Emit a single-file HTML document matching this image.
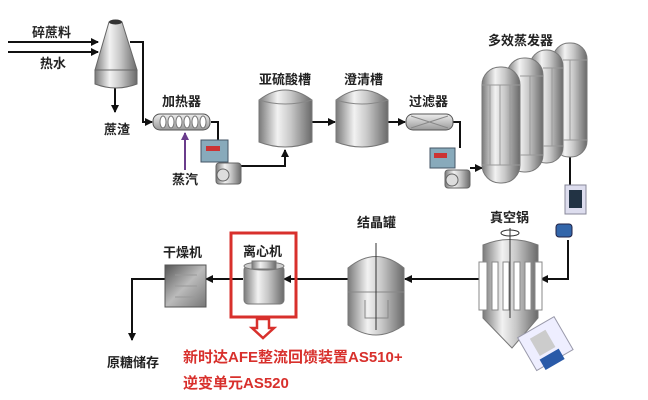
<!DOCTYPE html>
<html><head><meta charset="utf-8"><style>
html,body{margin:0;padding:0;background:#fff;}
svg{display:block;}
text{font-family:"Liberation Sans","Noto Sans CJK SC",sans-serif;fill:#222;font-size:13px;font-weight:bold;}
.r{fill:#d8302c;font-weight:bold;font-size:15px;}
</style></head><body>
<svg width="648" height="400" viewBox="0 0 648 400" xmlns="http://www.w3.org/2000/svg">
<defs>
<linearGradient id="m" x1="0" x2="1" y1="0" y2="0">
<stop offset="0" stop-color="#7a7a7a"/><stop offset="0.35" stop-color="#f2f2f2"/><stop offset="0.6" stop-color="#c8c8c8"/><stop offset="1" stop-color="#6a6a6a"/></linearGradient>
<linearGradient id="mv" x1="0" x2="0" y1="0" y2="1">
<stop offset="0" stop-color="#eee"/><stop offset="1" stop-color="#999"/></linearGradient>
<linearGradient id="bx" x1="0" x2="1" y1="0" y2="1">
<stop offset="0" stop-color="#555"/><stop offset="0.5" stop-color="#bbb"/><stop offset="1" stop-color="#777"/></linearGradient>
<marker id="a" markerWidth="8" markerHeight="8" refX="7" refY="4" orient="auto" markerUnits="userSpaceOnUse"><path d="M0,0 L8,4 L0,8 z" fill="#111"/></marker>
<marker id="p" markerWidth="8" markerHeight="8" refX="7" refY="4" orient="auto" markerUnits="userSpaceOnUse"><path d="M0,0 L8,4 L0,8 z" fill="#6a3c8c"/></marker>
</defs>
<g stroke="#111" stroke-width="2" fill="none">
<path d="M8 42 H98" marker-end="url(#a)"/>
<path d="M8 52 H98" marker-end="url(#a)"/>
<path d="M130 42 H143 V122 H152" marker-end="url(#a)"/>
<path d="M115 88 V112" marker-end="url(#a)"/>
<path d="M211 122 H218 V140"/>
<path d="M240 166 H285 V150" marker-end="url(#a)"/>
<path d="M312 122 H335" marker-end="url(#a)"/>
<path d="M388 122 H405" marker-end="url(#a)"/>
<path d="M453 122 H460 V148"/>
<path d="M470 168 H482" marker-end="url(#a)"/>
<path d="M570 155 V185"/>
<path d="M568 240 V279 H541" marker-end="url(#a)"/>
<path d="M483 279 H405" marker-end="url(#a)"/>
<path d="M348 279 H284" marker-end="url(#a)"/>
<path d="M243 279 H206" marker-end="url(#a)"/>
<path d="M165 279 H132 V340" marker-end="url(#a)"/>
</g>
<path d="M185 170 V133" stroke="#6a3c8c" stroke-width="2" marker-end="url(#p)"/>
<path d="M109 22 L122 22 L137 70 L95 70 Z" fill="url(#m)" stroke="#666"/>
<ellipse cx="115.5" cy="22" rx="6.5" ry="2.5" fill="#333"/>
<path d="M95 70 H137 V84 Q116 92 95 84 Z" fill="url(#m)" stroke="#666"/>
<rect x="153" y="114" width="57" height="16" rx="7" fill="url(#mv)" stroke="#555"/>
<g fill="#fff" stroke="#777"><ellipse cx="163" cy="122" rx="3" ry="6"/><ellipse cx="171" cy="122" rx="3" ry="6"/><ellipse cx="179" cy="122" rx="3" ry="6"/><ellipse cx="187" cy="122" rx="3" ry="6"/><ellipse cx="195" cy="122" rx="3" ry="6"/><ellipse cx="203" cy="122" rx="3" ry="6"/></g>
<rect x="201" y="140" width="27" height="22" fill="#8ab" stroke="#456"/><rect x="206" y="146" width="14" height="5" fill="#c33"/>
<rect x="216" y="163" width="25" height="21" rx="3" fill="url(#m)" stroke="#666"/><circle cx="223" cy="175" r="6" fill="#ddd" stroke="#666"/>
<path d="M259 100 Q285 80 312 100 V142 Q285 152 259 142 Z" fill="url(#m)" stroke="#777"/>
<path d="M259 100 Q285 108 312 100" fill="none" stroke="#888"/>
<path d="M336 100 Q362 80 388 100 V142 Q362 152 336 142 Z" fill="url(#m)" stroke="#777"/>
<path d="M336 100 Q362 108 388 100" fill="none" stroke="#888"/>
<rect x="406" y="114" width="47" height="16" rx="7" fill="url(#mv)" stroke="#555"/>
<path d="M411 116 L448 128 M411 128 L448 116" stroke="#888" fill="none"/>
<rect x="430" y="148" width="25" height="20" fill="#8ab" stroke="#456"/><rect x="434" y="153" width="13" height="5" fill="#c33"/>
<rect x="445" y="170" width="25" height="18" rx="3" fill="url(#m)" stroke="#666"/><circle cx="452" cy="180" r="6" fill="#ddd" stroke="#666"/>
<g stroke="#777">
<rect x="553" y="43" width="34" height="114" rx="16" fill="url(#m)"/>
<rect x="530" y="50" width="33" height="113" rx="16" fill="url(#m)"/>
<rect x="507" y="58" width="36" height="114" rx="17" fill="url(#m)"/>
<rect x="482" y="67" width="38" height="116" rx="18" fill="url(#m)"/>
</g>
<g stroke="#999" fill="none">
<path d="M482 85 H520 M482 165 H520 M490 85 V165 M500 85 V165 M510 85 V165"/>
<path d="M520 76 H543 M520 155 H543 M530 76 V155"/>
<path d="M543 68 H563 M543 146 H563 M552 68 V146"/>
<path d="M563 60 H587 M563 140 H587 M570 60 V140 M580 60 V140"/>
</g>
<rect x="565" y="185" width="21" height="29" fill="#dde" stroke="#889"/><rect x="569" y="190" width="13" height="18" fill="#234"/>
<rect x="556" y="224" width="16" height="13" rx="3" fill="#36a" stroke="#224"/>
<path d="M483 245 Q510 234 538 245 V318 L512 348 L483 318 Z" fill="url(#m)" stroke="#777"/>
<g fill="#fff" stroke="#888"><rect x="479" y="262" width="8" height="48"/><rect x="492" y="262" width="6" height="48"/><rect x="503" y="262" width="6" height="48"/><rect x="514" y="262" width="6" height="48"/><rect x="525" y="262" width="6" height="48"/><rect x="535" y="262" width="7" height="48"/></g>
<path d="M510 228 V318" stroke="#333"/>
<ellipse cx="510" cy="233" rx="9" ry="3" fill="none" stroke="#333"/>
<g transform="rotate(-30 545 345)"><rect x="525" y="325" width="42" height="38" fill="#eef" stroke="#99a"/><rect x="535" y="332" width="18" height="20" fill="#ccc"/><rect x="533" y="355" width="22" height="12" fill="#2a5aa8"/></g>
<path d="M348 268 Q376 245 404 268 V325 Q376 345 348 325 Z" fill="url(#m)" stroke="#777"/>
<path d="M348 292 H404" stroke="#888"/>
<path d="M365 300 V318 H388 V300" fill="none" stroke="#888"/>
<path d="M376 243 V330" stroke="#333"/>
<rect x="231" y="233" width="65" height="84" fill="none" stroke="#d8302c" stroke-width="3"/>
<rect x="244" y="266" width="40" height="38" rx="4" fill="url(#m)" stroke="#777"/>
<ellipse cx="264" cy="266" rx="20" ry="4" fill="#ccc" stroke="#777"/>
<rect x="252" y="261" width="24" height="8" fill="url(#m)" stroke="#777"/>
<rect x="165" y="265" width="41" height="42" fill="url(#bx)" stroke="#555"/>
<path d="M175 275 H197 M175 286 H197 M175 297 H197" stroke="#999"/>
<path d="M257 319 H269 V328 H274 L263 338 L252 328 H257 Z" fill="#fff" stroke="#d8302c" stroke-width="2.5"/>
<text x="32" y="37">碎蔗料</text>
<text x="40" y="68">热水</text>
<text x="104" y="134">蔗渣</text>
<text x="162" y="106">加热器</text>
<text x="172" y="184">蒸汽</text>
<text x="259" y="84">亚硫酸槽</text>
<text x="344" y="84">澄清槽</text>
<text x="409" y="106">过滤器</text>
<text x="488" y="45">多效蒸发器</text>
<text x="490" y="222">真空锅</text>
<text x="357" y="227">结晶罐</text>
<text x="243" y="256">离心机</text>
<text x="163" y="257">干燥机</text>
<text x="107" y="367">原糖储存</text>
<text class="r" x="183" y="362">新时达AFE整流回馈装置AS510+</text>
<text class="r" x="183" y="388">逆变单元AS520</text>
</svg>
</body></html>
